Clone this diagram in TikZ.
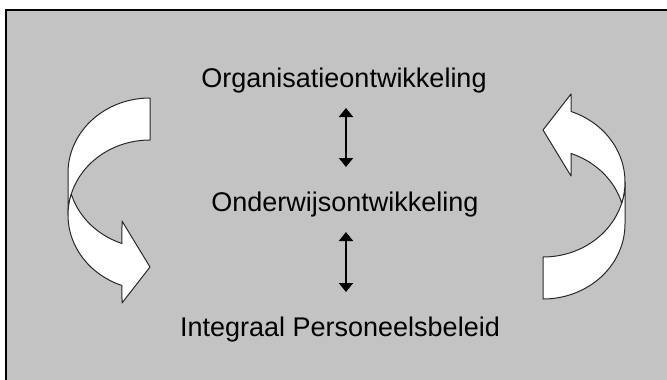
\documentclass[tikz,border=0pt]{standalone}
\usepackage{fontspec}
\setmainfont{Liberation Sans}
\usetikzlibrary{arrows.meta}
\definecolor{bgGray}{RGB}{195,195,195}
\definecolor{edgeGray}{RGB}{40,40,40}
\newcommand\bentArrowShape{%
  % back band (tail)
  \filldraw[arrowface] plot[domain=-90:-180,samples=50] ({150+82*cos(\x)},{173+75*sin(\x)})
     -- plot[domain=180:270,samples=50] ({150+82*cos(\x)},{215+75*sin(\x)}) -- cycle;
  % front band with head
  \filldraw[arrowface] plot[domain=163.74:109.97,samples=50] ({150+82*cos(\x)},{173+75*sin(\x)})
     -- (122,221) -- (150,267) -- (122,303)
     -- plot[domain=109.97:196.26,samples=50] ({150+82*cos(\x)},{215+75*sin(\x)}) -- cycle;
}
\begin{document}
\begin{tikzpicture}[x=1pt,y=-1pt,
  arrowface/.style={fill=white,draw=edgeGray,line width=1pt,line join=round},
  label/.style={font=\fontsize{27}{32}\selectfont,anchor=base,inner sep=0pt},
  dblarrow/.style={line width=2pt,{Triangle[length=9pt,width=14pt]}-{Triangle[length=9pt,width=14pt]}}]
\useasboundingbox (0,0) rectangle (667,380);
\clip (0,0) rectangle (667,380);
\fill[white] (0,0) rectangle (667,380);
\draw[line width=1.4pt,fill=bgGray] (6,10) rectangle (690,400);

\bentArrowShape
\begin{scope}[rotate around={180:(346.5,198.5)}]
\bentArrowShape
\end{scope}

\node[label] (org) at (344,87) {Organisatieontwikkeling};
\node[label] (ond) at (345,211) {Onderwijsontwikkeling};
\node[label] (ipb) at (340,336) {Integraal Personeelsbeleid};

\coordinate (a1) at (346,108);
\coordinate (a2) at (346,167);
\coordinate (b1) at (346,232);
\coordinate (b2) at (346,292);
\draw[dblarrow] (a1) -- (a2);
\draw[dblarrow] (b1) -- (b2);
\end{tikzpicture}
\end{document}
